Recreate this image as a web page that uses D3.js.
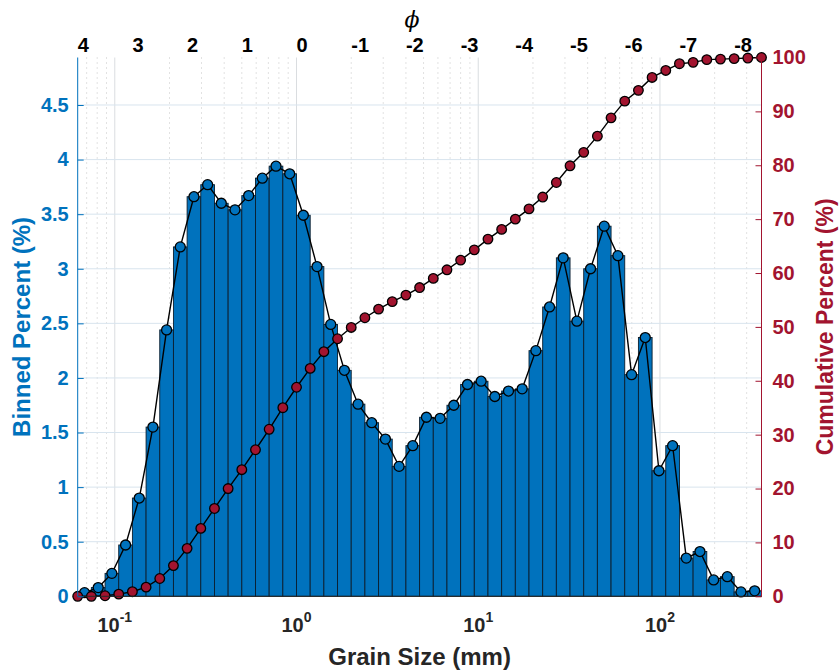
<!DOCTYPE html>
<html>
<head>
<meta charset="utf-8">
<script src="https://cdn.jsdelivr.net/npm/d3@7"></script>
<style>
  html, body { margin: 0; padding: 0; background: #fff; }
  svg { display: block; font-family: "Liberation Sans", Arial, Helvetica, sans-serif; font-weight: bold; }
</style>
</head>
<body>
<svg id="chart" width="839" height="671"></svg>
<script>
// ---- Data ----
// quarter-phi bins from phi = 4 down to phi = -8.5
const phiStart = 4, phiEnd = -8.5, phiStep = 0.25;
const binnedPercent = [0.033, 0.08, 0.21, 0.47, 0.90, 1.55, 2.44, 3.20, 3.66, 3.77,
  3.60, 3.54, 3.67, 3.83, 3.94, 3.87, 3.49, 3.02, 2.49, 2.07,
  1.76, 1.59, 1.44, 1.19, 1.38, 1.64, 1.63, 1.75, 1.94, 1.97,
  1.83, 1.88, 1.90, 2.25, 2.65, 3.10, 2.52, 3.00, 3.39, 3.12,
  2.03, 2.37, 1.15, 1.38, 0.35, 0.41, 0.15, 0.18, 0.04, 0.05];
const cumulativePercent = [0, 0, 0.1, 0.4, 0.85, 1.7, 3.3, 5.7, 8.9, 12.6,
  16.3, 20.0, 23.5, 27.2, 31.0, 35.0, 38.8, 42.3, 45.4, 47.8,
  49.9, 51.7, 53.3, 54.7, 55.9, 57.3, 59.0, 60.6, 62.4, 64.3,
  66.3, 68.1, 70.0, 71.9, 74.1, 76.8, 79.9, 82.4, 85.4, 88.8,
  91.9, 93.9, 96.3, 97.6, 98.85, 99.1, 99.6, 99.7, 99.8, 99.9, 100];
const leftTicks = [0, 0.5, 1, 1.5, 2, 2.5, 3, 3.5, 4, 4.5];
const rightTicks = [0, 10, 20, 30, 40, 50, 60, 70, 80, 90, 100];
const phiTicks = [4, 3, 2, 1, 0, -1, -2, -3, -4, -5, -6, -7, -8];
const decadeTicks = [0.1, 1, 10, 100];
const decadeExp = ["-1", "0", "1", "2"];

// ---- Layout ----
const L = 77.7, R = 761.5, T = 57.5, B = 596.3;
const blue = "#0072BD", red = "#A2142F";
const svg = d3.select("#chart");

const phiEdges = d3.range(0, binnedPercent.length + 1).map(i => phiStart - i * phiStep);
const mm = phi => Math.pow(2, -phi);

const x = d3.scaleLog().domain([mm(phiStart), mm(phiEnd)]).range([L, R]);
const yL = d3.scaleLinear().domain([0, 4.935]).range([B, T]);
const yR = d3.scaleLinear().domain([0, 100]).range([B, T]);

// ---- Grid ----
const grid = svg.append("g");
const minor = [];
[0.01, 0.1, 1, 10, 100].forEach(d => { for (let k = 2; k <= 9; k++) { const v = d * k; if (v > mm(phiStart) && v < mm(phiEnd)) minor.push(v); } });
grid.selectAll("line.minor").data(minor).join("line")
  .attr("x1", d => x(d)).attr("x2", d => x(d)).attr("y1", T).attr("y2", B)
  .attr("stroke", "#c4c4c4").attr("stroke-width", 1).attr("stroke-dasharray", "1,4");
grid.selectAll("line.major").data(decadeTicks).join("line")
  .attr("x1", d => x(d)).attr("x2", d => x(d)).attr("y1", T).attr("y2", B)
  .attr("stroke", "#dadde0").attr("stroke-width", 1);
grid.selectAll("line.h").data(leftTicks.filter(d => d > 0)).join("line")
  .attr("x1", L).attr("x2", R).attr("y1", d => yL(d)).attr("y2", d => yL(d))
  .attr("stroke", "#d8e4ee").attr("stroke-width", 1);

// ---- Bars ----
svg.append("g").selectAll("rect").data(binnedPercent).join("rect")
  .attr("x", (d, i) => x(mm(phiEdges[i])))
  .attr("width", (d, i) => x(mm(phiEdges[i + 1])) - x(mm(phiEdges[i])))
  .attr("y", d => yL(d))
  .attr("height", d => B - yL(d))
  .attr("fill", blue).attr("stroke", "#0b1e2e").attr("stroke-width", 0.9);

// ---- Binned line ----
const centers = binnedPercent.map((d, i) => ({ x: x(mm((phiEdges[i] + phiEdges[i + 1]) / 2)), y: yL(d) }));
svg.append("path").datum(centers)
  .attr("d", d3.line().x(d => d.x).y(d => d.y))
  .attr("fill", "none").attr("stroke", "#000").attr("stroke-width", 1.4);
svg.append("g").selectAll("circle").data(centers).join("circle")
  .attr("cx", d => d.x).attr("cy", d => d.y).attr("r", 5)
  .attr("fill", blue).attr("stroke", "#000").attr("stroke-width", 1.3);

// ---- Cumulative line ----
const cum = cumulativePercent.map((d, i) => ({ x: x(mm(phiEdges[i])), y: yR(d) }));
svg.append("path").datum(cum)
  .attr("d", d3.line().x(d => d.x).y(d => d.y))
  .attr("fill", "none").attr("stroke", "#000").attr("stroke-width", 1.4);
svg.append("g").selectAll("circle").data(cum).join("circle")
  .attr("cx", d => d.x).attr("cy", d => d.y).attr("r", 4.8)
  .attr("fill", red).attr("stroke", "#000").attr("stroke-width", 1.3);

// ---- Axes ----
svg.append("line").attr("x1", L).attr("x2", R).attr("y1", B).attr("y2", B)
  .attr("stroke", "#262626").attr("stroke-width", 1);

const gl = svg.append("g").attr("transform", `translate(${L},0)`)
  .call(d3.axisLeft(yL).tickValues(leftTicks).tickSize(-6).tickPadding(9).tickFormat(d3.format("")));
gl.select(".domain").attr("stroke", blue).attr("d", `M0,${T}V${B}`);
gl.selectAll(".tick line").attr("stroke", blue);
gl.selectAll(".tick text").attr("fill", blue).attr("font-size", 20).attr("font-weight", "bold")
  .attr("font-family", "Liberation Sans, Arial, sans-serif");

const gr = svg.append("g").attr("transform", `translate(${R},0)`)
  .call(d3.axisRight(yR).tickValues(rightTicks).tickSize(-6).tickPadding(11));
gr.select(".domain").attr("stroke", red).attr("d", `M0,${T}V${B}`);
gr.selectAll(".tick line").attr("stroke", red);
gr.selectAll(".tick text").attr("fill", red).attr("font-size", 20).attr("font-weight", "bold")
  .attr("font-family", "Liberation Sans, Arial, sans-serif");

const bl = svg.append("g").selectAll("text").data(decadeTicks).join("text")
  .attr("x", d => x(d)).attr("y", 632).attr("text-anchor", "middle")
  .attr("fill", "#262626").attr("font-size", 20);
bl.append("tspan").text("10");
bl.append("tspan").attr("dy", -10).attr("font-size", 14).text((d, i) => decadeExp[i]);

svg.append("g").selectAll("text").data(phiTicks).join("text")
  .attr("x", d => x(mm(d))).attr("y", 51.5).attr("text-anchor", "start")
  .attr("fill", "#000").attr("font-size", 20).text(d => d);
svg.append("text").attr("x", 412).attr("y", 27).attr("text-anchor", "middle")
  .attr("font-size", 22).attr("font-style", "italic").attr("font-weight", "normal")
  .attr("font-family", "DejaVu Serif, serif").attr("fill", "#000").text("ϕ");

svg.append("text").attr("x", (L + R) / 2).attr("y", 665).attr("text-anchor", "middle")
  .attr("font-size", 24).attr("fill", "#262626").text("Grain Size (mm)");
svg.append("text").attr("transform", `translate(30,${(T + B) / 2}) rotate(-90)`)
  .attr("text-anchor", "middle").attr("font-size", 24).attr("fill", blue).text("Binned Percent (%)");
svg.append("text").attr("transform", `translate(833,${(T + B) / 2}) rotate(-90)`)
  .attr("text-anchor", "middle").attr("font-size", 23).attr("fill", red).text("Cumulative Percent (%)");
</script>
</body>
</html>
